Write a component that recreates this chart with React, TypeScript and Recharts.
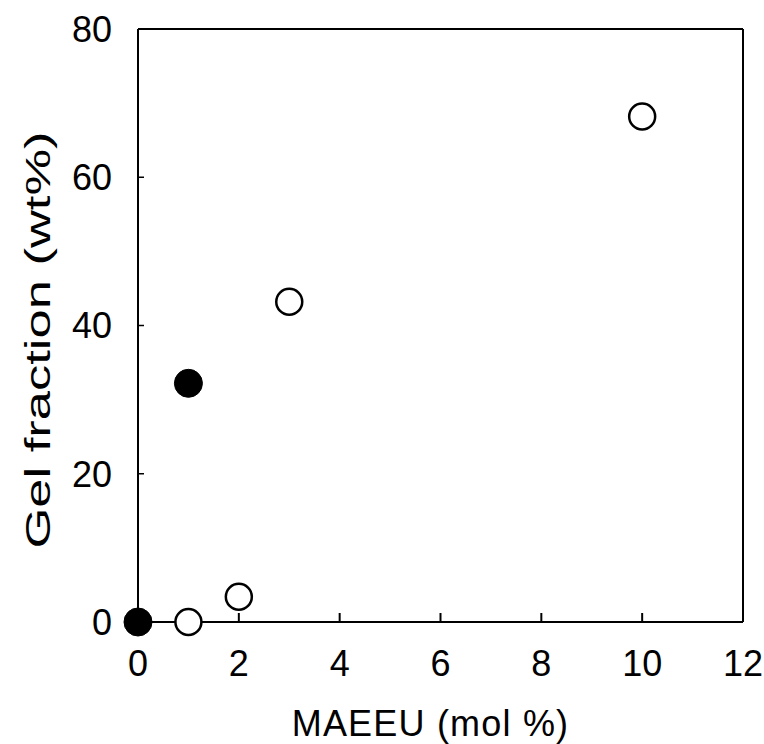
import React from 'react';
import { ScatterChart, Scatter, XAxis, YAxis, ReferenceLine } from 'recharts';

const openSeries = [
  { x: 1, y: 0 },
  { x: 2, y: 3.4 },
  { x: 3, y: 43.2 },
  { x: 10, y: 68.2 },
];
const filledSeries = [
  { x: 0, y: 0 },
  { x: 1, y: 32.2 },
];
const xTicks = [0, 2, 4, 6, 8, 10, 12];
const yTicks = [0, 20, 40, 60, 80];
const xTitle = 'MAEEU (mol %)';
const yTitle = 'Gel  fraction  (wt%)';

const FONT = '"Liberation Sans", Arial, sans-serif';

const OpenDot = (p: any) => (
  <circle cx={p.cx} cy={p.cy} r={13} fill="#fff" stroke="#000" strokeWidth={2.5} />
);
const FilledDot = (p: any) => (
  <circle cx={p.cx} cy={p.cy} r={14} fill="#000" stroke="#000" strokeWidth={1} />
);

const XLabel = (props: any) => {
  const vb = props.viewBox || {};
  return (
    <text
      x={vb.x + vb.width / 2 - 10}
      y={vb.y + vb.height - 8}
      textAnchor="middle"
      fontFamily={FONT}
      fontSize={36}
      letterSpacing={1.2}
      fill="#000"
    >
      {xTitle}
    </text>
  );
};

const YLabel = () => {
  const cx = 50;
  const cy = 340;
  return (
    <text
      x={0}
      y={0}
      transform={`translate(${cx}, ${cy}) rotate(-90) scale(1.5, 1)`}
      textAnchor="middle"
      fontFamily={FONT}
      fontSize={35}
      fill="#000"
    >
      {yTitle}
    </text>
  );
};

export default function App() {
  return (
    <div style={{ position: 'absolute', left: 0, top: 0, background: '#fff' }}>
      <ScatterChart
        width={764}
        height={744}
        margin={{ top: 29, right: 21, bottom: 0, left: 0 }}
        style={{ background: '#fff' }}
      >
        <XAxis
          type="number"
          dataKey="x"
          domain={[0, 12]}
          ticks={xTicks}
          height={122}
          tickSize={-9}
          tickMargin={37}
          axisLine={{ stroke: '#000', strokeWidth: 2 }}
          tickLine={{ stroke: '#000', strokeWidth: 2 }}
          tick={{ fill: '#000', fontSize: 36, fontFamily: FONT }}
          label={XLabel}
        />
        <YAxis
          type="number"
          dataKey="y"
          domain={[0, 80]}
          ticks={yTicks}
          width={138}
          tickSize={-6}
          tickMargin={32}
          axisLine={{ stroke: '#000', strokeWidth: 2 }}
          tickLine={{ stroke: '#000', strokeWidth: 1.5 }}
          tick={{ fill: '#000', fontSize: 36, fontFamily: FONT }}
          label={YLabel}
        />
        <ReferenceLine y={80} stroke="#000" strokeWidth={2} />
        <ReferenceLine x={12} stroke="#000" strokeWidth={2} />
        <Scatter data={openSeries} shape={OpenDot} isAnimationActive={false} />
        <Scatter data={filledSeries} shape={FilledDot} isAnimationActive={false} />
      </ScatterChart>
    </div>
  );
}
